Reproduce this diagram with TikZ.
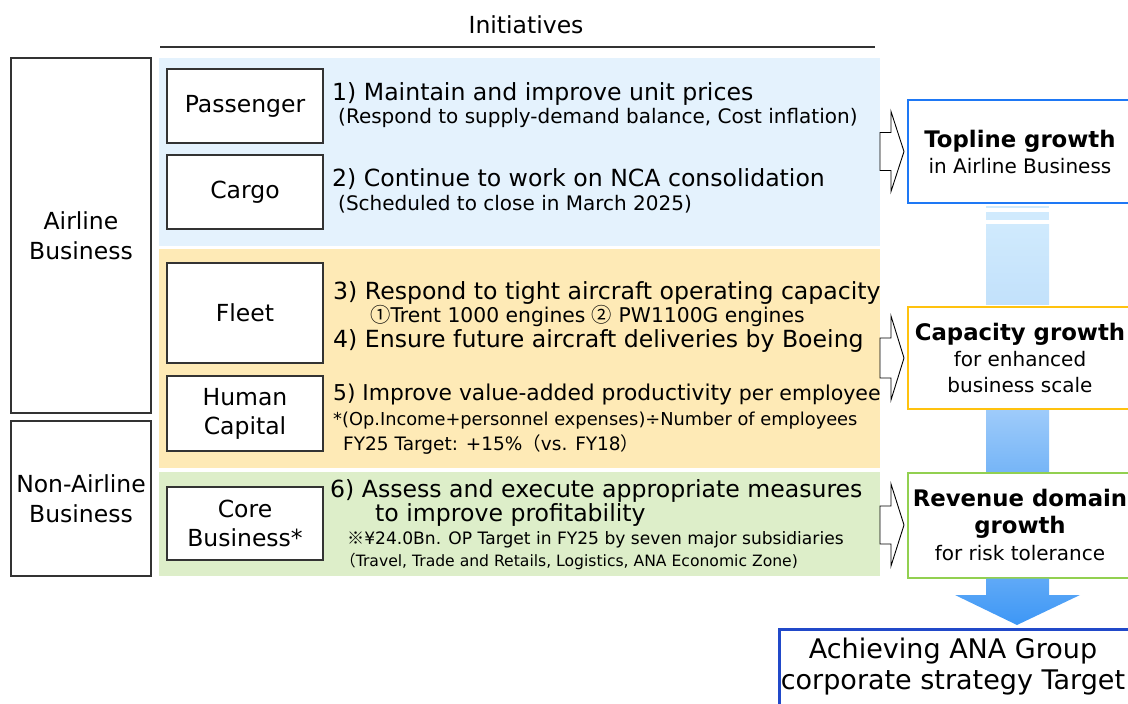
\documentclass[tikz,border=0pt]{standalone}
\usepackage{fontspec}
\setmainfont{DejaVu Sans}
\newfontfamily\jpfont{Noto Sans CJK JP}
\usetikzlibrary{calc}

\definecolor{paxband}{HTML}{E4F2FD}
\definecolor{fleetband}{HTML}{FEEAB6}
\definecolor{coreband}{HTML}{DDEEC9}
\definecolor{toplineblue}{HTML}{1E78F5}
\definecolor{capyellow}{HTML}{FFC20E}
\definecolor{revgreen}{HTML}{92D050}
\definecolor{goalblue}{HTML}{2149C9}
\definecolor{boxgray}{HTML}{333333}
\definecolor{shaftpale}{HTML}{D0EAFD}
\definecolor{shaftlight}{HTML}{C2E1FB}
\definecolor{shaftmid}{HTML}{9ECBFA}
\definecolor{shaftdeep}{HTML}{76B5F7}
\definecolor{arrowblue}{HTML}{3D97F6}

\begin{document}
\begin{tikzpicture}[x=1pt, y=-1pt,
    catbox/.style={draw=boxgray, line width=1.3pt, fill=white, minimum width=156pt,
        align=center, font=\fontsize{23.5}{29}\selectfont},
    bizbox/.style={draw=boxgray, line width=1.3pt, fill=white, minimum width=140pt,
        align=center, font=\fontsize{23.5}{30}\selectfont},
    goalbox/.style={draw=#1, line width=2pt, fill=white, minimum width=224pt,
        align=center, font=\fontsize{20}{26}\selectfont},
    item/.style={anchor=base west, inner sep=0pt, font=\fontsize{23.6}{27}\selectfont},
    note/.style={anchor=base west, inner sep=0pt, font=\fontsize{20}{22}\selectfont},
    openarrow/.style={draw=black, line width=0.9pt, fill=white, line join=miter}]

    \clip (0,0) rectangle (1128,704);

    % Title
    \node[font=\fontsize{23.5}{28}\selectfont] (title) at (526,25) {Initiatives};
    \draw[boxgray, line width=1.3pt] (160,47) -- (875,47);

    % Bands behind the initiatives
    \fill[paxband] (159,58) rectangle (880,246);
    \fill[fleetband] (159,249) rectangle (880,468);
    \fill[coreband] (159,472) rectangle (880,576);

    % Business segments
    \node[bizbox, minimum height=355pt] (airline) at (81,235.5) {Airline\\Business};
    \node[bizbox, minimum height=155pt] (nonairline) at (81,498.5) {Non-Airline\\Business};

    % Categories
    \node[catbox, minimum height=74pt] (pax) at (245,106) {Passenger};
    \node[catbox, minimum height=74pt] (cargo) at (245,192) {Cargo};
    \node[catbox, minimum height=100pt] (fleet) at (245,313) {Fleet};
    \node[catbox, minimum height=75pt] (human) at (245,413.5) {Human\\Capital};
    \node[catbox, minimum height=73pt] (core) at (245,523.5) {Core\\Business*};

    % Initiatives text
    \node[item] (i1) at (332,100) {1) Maintain and improve unit prices};
    \node[note] (n1) at (338,123) {(Respond to supply-demand balance, Cost inflation)};
    \node[item] (i2) at (332,186) {2) Continue to work on NCA consolidation};
    \node[note] (n2) at (338,210) {(Scheduled to close in March 2025)};
    \node[item] (i3) at (333,299) {3) Respond to tight aircraft operating capacity};
    \node[note, font=\fontsize{20.3}{22}\selectfont] (n3) at (370,322)
        {{\jpfont ①}Trent 1000 engines {\jpfont ②} PW1100G engines};
    \node[item] (i4) at (333,347) {4) Ensure future aircraft deliveries by Boeing};
    \node[item, font=\fontsize{21.8}{25}\selectfont] (i5) at (333,400)
        {5) Improve value-added productivity {\fontsize{20.5}{22}\selectfont per employee}};
    \node[note, font=\fontsize{17.8}{20}\selectfont] (n5) at (333,425)
        {*(Op.Income+personnel expenses)÷Number of employees};
    \node[note, font=\fontsize{18.5}{20}\selectfont] (n5b) at (343,450)
        {FY25 Target: +15\%{\jpfont （}vs. FY18{\jpfont ）}};
    \node[item] (i6) at (330,497) {6) Assess and execute appropriate measures};
    \node[item] (i6b) at (375,521) {to improve profitability};
    \node[note, font=\fontsize{17.1}{20}\selectfont] (n6) at (347,544)
        {{\jpfont ※}¥24.0Bn. OP Target in FY25 by seven major subsidiaries};
    \node[note, font=\fontsize{15.6}{20}\selectfont] (n6b) at (340,566)
        {{\jpfont （}Travel, Trade and Retails, Logistics, ANA Economic Zone)};

    % Growth outcomes
    \node[goalbox=toplineblue, minimum height=103pt] (top) at (1020,151.5)
        {{\bfseries\fontsize{22.8}{27}\selectfont Topline growth}\\in Airline Business};
    \node[goalbox=capyellow, minimum height=102pt] (cap) at (1020,358)
        {{\bfseries\fontsize{22.8}{27}\selectfont Capacity growth}\\for enhanced\\business scale};
    \node[goalbox=revgreen, minimum height=105pt, font=\fontsize{20}{27}\selectfont] (rev) at (1020,525)
        {{\bfseries\fontsize{22.8}{27}\selectfont Revenue domain}\\{\bfseries\fontsize{22.8}{27}\selectfont growth}\\for risk tolerance};

    % Open arrows from the bands
    \foreach \n/\hh/\bh in {top/40/19, cap/42/20, rev/41/19}
        \draw[openarrow] ($(\n.west)+(-27,-\bh)$) -- ++(11,0) -- ($(\n.west)+(-16,-\hh)$)
            -- ($(\n.west)+(-3,0)$) -- ($(\n.west)+(-16,\hh)$) -- ($(\n.west)+(-16,\bh)$)
            -- ($(\n.west)+(-27,\bh)$) -- cycle;

    % Shafts between the outcomes
    \coordinate (shaftL) at (986,0);
    \coordinate (shaftR) at (1049,0);
    \fill[shaftpale] ($(top.south -| shaftL)+(0,2)$) rectangle ($(top.south -| shaftR)+(0,4)$);
    \fill[shaftpale] ($(top.south -| shaftL)+(0,8)$) rectangle ($(top.south -| shaftR)+(0,16)$);
    \shade[top color=shaftpale, bottom color=shaftlight]
        ($(top.south -| shaftL)+(0,20)$) rectangle ($(cap.north -| shaftR)+(0,-2)$);
    \shade[top color=shaftmid, bottom color=shaftdeep]
        (cap.south -| shaftL) rectangle (rev.north -| shaftR);

    % Final arrow into the target
    \node[draw=goalblue, line width=2.5pt, fill=white, minimum width=380pt, minimum height=80pt,
        anchor=north west] (goal) at (778,628) {};
    \node[align=center, font=\fontsize{27}{31}\selectfont] (goaltext) at (953,667)
        {Achieving ANA Group\\corporate strategy Target};
    \shade[top color=shaftdeep!60!arrowblue, bottom color=arrowblue]
        (rev.south -| shaftL) -- (rev.south -| shaftR) -- (shaftR |- 0,595) -- (1080,595)
        -- ($(goal.north west)+(239,-3)$) -- (955,595) -- (shaftL |- 0,595) -- cycle;
\end{tikzpicture}
\end{document}
